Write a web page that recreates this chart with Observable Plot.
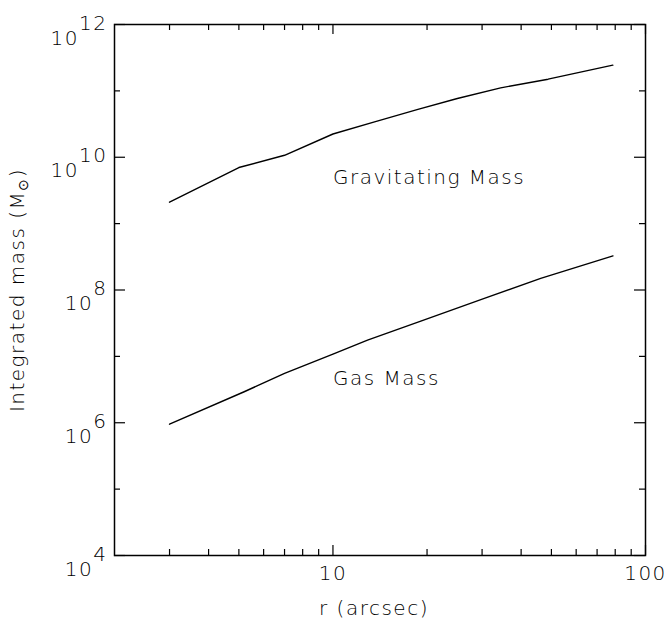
<!DOCTYPE html>
<html><head><meta charset="utf-8">
<script src="https://cdn.jsdelivr.net/npm/d3@7"></script>
<script src="https://cdn.jsdelivr.net/npm/@observablehq/plot@0.6"></script>
<style>
body{margin:0;background:#fff} svg{display:block}
svg text{letter-spacing:1.5px}
</style>
</head><body><div id="chart"></div>
<script>
// Gravitating mass profile (radius in arcsec, mass in solar masses)
const gravR = [3, 5, 7, 10, 13.5, 18.7, 25, 34.4, 48.8, 78.6];
const gravMass = [2.1e9, 7.0e9, 1.07e10, 2.24e10, 3.39e10, 5.25e10, 7.67e10, 1.11e11, 1.50e11, 2.44e11];
// Gas mass profile
const gasR = [3, 5.2, 7, 10, 12.9, 19.1, 30.5, 46.2, 78.7];
const gasMass = [9.5e5, 2.93e6, 5.55e6, 1.08e7, 1.76e7, 3.39e7, 7.46e7, 1.50e8, 3.27e8];
// Axis ticks
const xMajorTicks = [10, 100];
const xMinorTicks = [3, 4, 5, 6, 7, 8, 9, 20, 30, 40, 50, 60, 70, 80, 90];
const yMajorTicks = [1e4, 1e6, 1e8, 1e10, 1e12];
const yMinorTicks = [1e5, 1e7, 1e9, 1e11];
// Series annotations (anchored in data coordinates)
const seriesLabels = ["Gravitating Mass", "Gas Mass"];
const labelR = [10, 10];
const labelMass = [5e9, 4.7e6];
const xTitle = "r (arcsec)";
const yTitle = "Integrated mass (M\u2299)";

const grav = gravR.map((r, i) => ({r, m: gravMass[i]}));
const gas = gasR.map((r, i) => ({r, m: gasMass[i]}));
const labels = seriesLabels.map((t, i) => ({t, r: labelR[i], m: labelMass[i]}));

const W = 667, H = 622, ML = 114, MR = 22, MT = 24, MB = 67;
const FW = W - ML - MR, FH = H - MT - MB;
const font = "DejaVu Sans";
const FS = 20;

const plot = Plot.plot({
  width: W, height: H,
  marginLeft: ML, marginRight: MR, marginTop: MT, marginBottom: MB,
  style: {fontFamily: font, fontSize: FS + "px", color: "black", background: "white", fontWeight: 200},
  x: {type: "log", domain: [2, 100], axis: null},
  y: {type: "log", domain: [1e4, 1e12], axis: null},
  marks: [
    // ticks pointing inward on all four sides
    Plot.ruleX(xMajorTicks, {x: d => d, insetTop: FH - 10, stroke: "black", strokeWidth: 1.2}),
    Plot.ruleX(xMajorTicks, {x: d => d, insetBottom: FH - 10, stroke: "black", strokeWidth: 1.2}),
    Plot.ruleX(xMinorTicks, {x: d => d, insetTop: FH - 6, stroke: "black", strokeWidth: 1.2}),
    Plot.ruleX(xMinorTicks, {x: d => d, insetBottom: FH - 6, stroke: "black", strokeWidth: 1.2}),
    Plot.ruleY(yMajorTicks, {y: d => d, insetRight: FW - 11, stroke: "black", strokeWidth: 1.2}),
    Plot.ruleY(yMajorTicks, {y: d => d, insetLeft: FW - 11, stroke: "black", strokeWidth: 1.2}),
    Plot.ruleY(yMinorTicks, {y: d => d, insetRight: FW - 6, stroke: "black", strokeWidth: 1.2}),
    Plot.ruleY(yMinorTicks, {y: d => d, insetLeft: FW - 6, stroke: "black", strokeWidth: 1.2}),
    Plot.axisX(xMajorTicks, {anchor: "bottom", tickSize: 0, tickPadding: 10, tickFormat: d => String(d), label: null, fontSize: FS}),
    Plot.axisY(yMajorTicks, {anchor: "left", tickSize: 0, tickPadding: 7, tickFormat: d => "10^" + Math.round(Math.log10(d)), label: null, fontSize: FS}),
    Plot.line(grav, {x: "r", y: "m", stroke: "black", strokeWidth: 1.4}),
    Plot.line(gas, {x: "r", y: "m", stroke: "black", strokeWidth: 1.4}),
    Plot.text(labels, {x: "r", y: "m", text: "t", textAnchor: "start", fontSize: FS, fill: "black"}),
    Plot.text([xTitle], {frameAnchor: "bottom", textAnchor: "middle", lineAnchor: "middle", dx: -6, dy: 53, fontSize: FS, fill: "black"}),
    Plot.text([yTitle], {frameAnchor: "left", textAnchor: "middle", lineAnchor: "middle", rotate: -90, dx: 17 - ML, fontSize: FS, fill: "black"}),
    Plot.frame({stroke: "black", strokeWidth: 1.5})
  ]
});

const ns = "http://www.w3.org/2000/svg";
// turn "10^n" into 10 with superscript exponent
plot.querySelectorAll('g[aria-label="y-axis tick label"] text').forEach(t => {
  const s = t.textContent;
  const exp = s.split("^")[1];
  t.textContent = "";
  t.setAttribute("y", 0);
  const a = document.createElementNS(ns, "tspan");
  a.setAttribute("dy", "20");
  a.textContent = "10";
  const b = document.createElementNS(ns, "tspan");
  b.setAttribute("dy", "-15");
  b.textContent = exp;
  t.appendChild(a); t.appendChild(b);
});
// subscript sun symbol in the y title
plot.querySelectorAll("text").forEach(t => {
  if (t.textContent === yTitle) {
    t.textContent = "Integrated mass (M";
    const a = document.createElementNS(ns, "tspan");
    a.setAttribute("dy", "4");
    a.setAttribute("font-size", "14");
    a.textContent = "\u2299";
    const b = document.createElementNS(ns, "tspan");
    b.setAttribute("dy", "-4");
    b.textContent = ")";
    t.appendChild(a); t.appendChild(b);
  }
});

document.getElementById("chart").appendChild(plot);
</script>
</body></html>
